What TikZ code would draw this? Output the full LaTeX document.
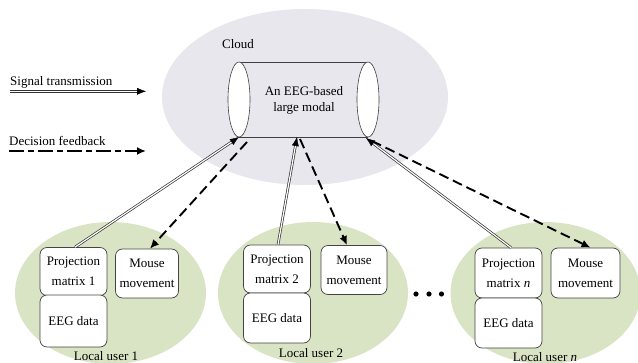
\documentclass[tikz,border=0pt]{standalone}
\usepackage{fontspec}
\setmainfont{Liberation Serif}
\usetikzlibrary{arrows.meta,calc}
\definecolor{cloudgray}{HTML}{E7E7ED}
\definecolor{usergreen}{HTML}{D8E4C4}
\definecolor{boxline}{HTML}{444444}
\tikzset{
  txt/.style={font=\fontsize{13}{20}\selectfont, align=center, inner sep=0pt},
  ubox/.style={draw=boxline, line width=0.7pt, fill=white, rounded corners=7pt,
    minimum width=67pt, minimum height=49pt, inner sep=1pt,
    font=\fontsize{13}{20}\selectfont, align=center},
  sigline/.style={draw=black!80, line width=0.7pt, double=white, double distance=1.2pt, shorten >=7pt},
  sigtip/.style={draw=black, fill=black, line width=0.3pt, -{Latex[length=9pt,width=7pt]}},
  decline/.style={draw=black, line width=1.9pt, dash pattern=on 10pt off 5pt, -{Latex[length=9pt,width=8pt]}},
  legdec/.style={draw=black, line width=1.9pt, dash pattern=on 15pt off 4pt on 6pt off 4pt, -{Latex[length=9pt,width=8pt]}},
}
\begin{document}
\begin{tikzpicture}[x=1pt,y=-1pt]
\useasboundingbox (0,0) rectangle (638,363);
\begin{scope}
\clip (0,0) rectangle (638,363);
% cloud
\fill[cloudgray] (305,97) ellipse [x radius=143, y radius=88];
% users
\fill[usergreen] (110.5,293) ellipse [x radius=95.5, y radius=71];
\fill[usergreen] (313,293) ellipse [x radius=95, y radius=71];
\fill[usergreen] (545.5,293) ellipse [x radius=95, y radius=71];
\end{scope}
\node[txt] (cloudlbl) at (238,44) {Cloud};
% cylinder
\draw[line width=0.6pt, black!75] (239,62) -- (368,62) (239,137) -- (368,137);
\draw[line width=0.6pt, black!75, fill=white] (239,99.5) ellipse [x radius=11, y radius=37.5];
\draw[line width=0.6pt, black!75, fill=white] (368,99.5) ellipse [x radius=11, y radius=37.5];
\node[txt, font=\fontsize{13}{16}\selectfont] (model) at (304,100) {An EEG-based\\large modal};
\coordinate (cl) at (239,137);
\coordinate (cm) at (297,137);
\coordinate (cr) at (366,138);
\coordinate (dl) at (247,142);
\coordinate (dm) at (300,139);
\coordinate (dr) at (372,141);
% legend
\node[txt, anchor=west] (sigtxt) at (10,82) {Signal transmission};
\node[txt, anchor=west] (dectxt) at (9,141) {Decision feedback};
\coordinate (sigA) at (10,91.3);
\coordinate (sigB) at (146,91.3);
\coordinate (decA) at (9,151);
\coordinate (decB) at (146,151);
\draw[sigline] (sigA) -- (sigB);
\draw[sigtip] ($(sigB)!9pt!(sigA)$) -- (sigB);
\draw[legdec] (decA) -- (decB);
% user 1
\node[ubox, minimum height=48pt] (proj1) at (73.5,271.5) {Projection\\matrix 1};
\node[ubox, minimum height=52pt] (eeg1) at (73.5,321) {EEG data};
\node[ubox, minimum width=63pt] (mouse1) at (147,273.5) {Mouse\\movement};
\node[txt] (lu1) at (106,356) {Local user 1};
% user 2
\node[ubox, minimum height=48pt] (proj2) at (277,269) {Projection\\matrix 2};
\node[ubox, minimum height=50pt] (eeg2) at (277,318) {EEG data};
\node[ubox, minimum width=66pt] (mouse2) at (354,270) {Mouse\\movement};
\node[txt] (lu2) at (311,353) {Local user 2};
% user n
\node[ubox, minimum height=50pt] (projn) at (508.5,273) {Projection\\matrix \textit{n}};
\node[ubox, minimum height=50pt] (eegn) at (508.5,323) {EEG data};
\node[ubox, minimum width=69pt, minimum height=50pt] (mousen) at (585.5,273) {Mouse\\movement};
\node[txt] (lun) at (545,357) {Local user \textit{n}};
% dots
\fill (416,294) circle (2.6) (429,294) circle (2.6) (441.5,294) circle (2.6);
% connectors
\coordinate (p1) at ([xshift=1.5pt]proj1.north);
\coordinate (p2) at ([xshift=1pt]proj2.north);
\coordinate (pn) at ([xshift=2.5pt]projn.north);
\draw[sigline] (p1) -- (cl);
\draw[sigtip] ($(cl)!9pt!(p1)$) -- (cl);
\draw[sigline] (p2) -- (cm);
\draw[sigtip] ($(cm)!9pt!(p2)$) -- (cm);
\draw[sigline] (pn) -- (cr);
\draw[sigtip] ($(cr)!9pt!(pn)$) -- (cr);
\draw[decline] (dl) -- ([xshift=3pt]mouse1.north);
\draw[decline] (dm) -- ([xshift=-7pt]mouse2.north);
\draw[decline] (dr) -- ([xshift=5pt]mousen.north);
\end{tikzpicture}
\end{document}
